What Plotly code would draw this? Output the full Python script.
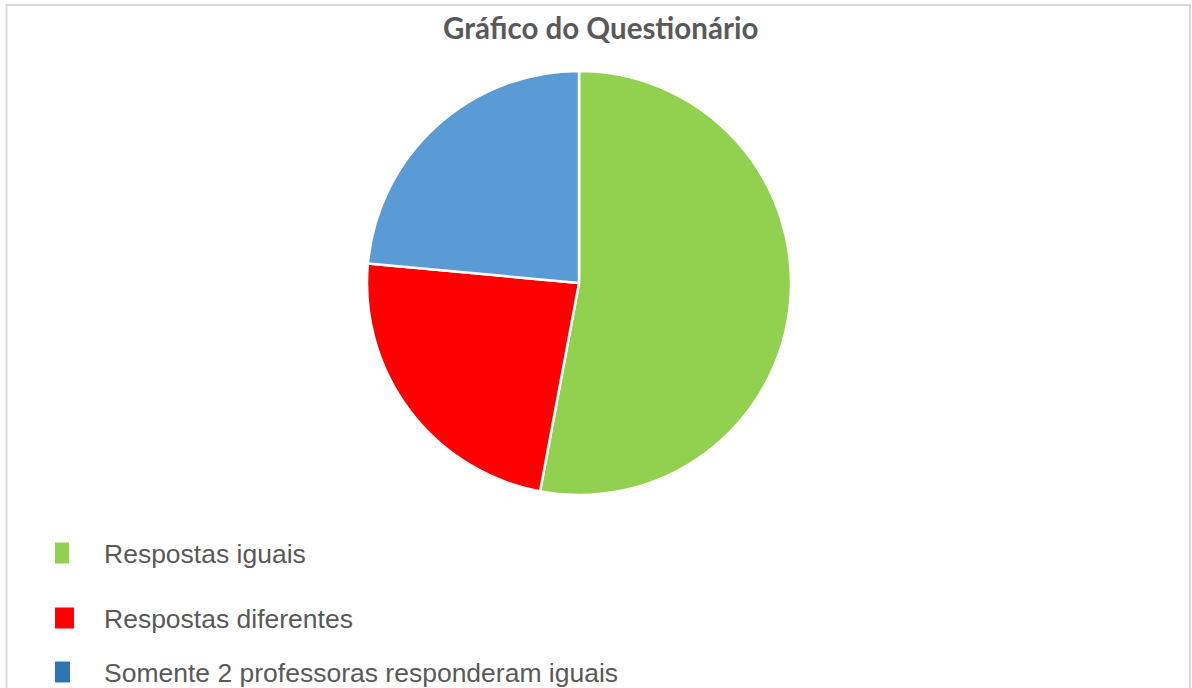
import plotly.graph_objects as go

labels = ["Respostas iguais", "Respostas diferentes", "Somente 2 professoras responderam iguais"]
values = [9, 4, 4]
slice_colors = ["#92D050", "#FF0000", "#5B9BD5"]
legend_colors = ["#92D050", "#FF0000", "#2E75B6"]
title = "Gráfico do Questionário"

W, H = 1192, 688
fig = go.Figure()
fig.add_trace(go.Pie(
    labels=labels, values=values, sort=False, direction="clockwise", rotation=0,
    marker=dict(colors=slice_colors, line=dict(color="white", width=2.5)),
    textinfo="none", hoverinfo="label+value+percent",
    domain=dict(x=[(579 - 212) / W, (579 + 212) / W], y=[1 - (283 + 212) / H, 1 - (283 - 212) / H]),
    showlegend=False,
))

# border
fig.add_shape(type="rect", xref="paper", yref="paper",
              x0=6.5 / W, x1=1190 / W, y0=-0.05, y1=1 - 5 / H,
              line=dict(color="#D9D9D9", width=2), fillcolor="rgba(0,0,0,0)", layer="below")

# custom legend
leg_y = [553, 618, 672]
leg_w = [14, 19, 15]
for lab, col, yc, w in zip(labels, legend_colors, leg_y, leg_w):
    fig.add_shape(type="rect", xref="paper", yref="paper",
                  x0=55 / W, x1=(55 + w) / W, y0=1 - (yc + 10.5) / H, y1=1 - (yc - 10.5) / H,
                  line=dict(width=0), fillcolor=col)
    fig.add_annotation(xref="paper", yref="paper", x=102 / W, y=1 - (yc + 1) / H,
                       xanchor="left", yanchor="middle", showarrow=False, text=lab,
                       font=dict(family="Liberation Sans, Arial", size=26.5, color="#595959"))

fig.add_annotation(xref="paper", yref="paper", x=600 / W, y=1 - 28 / H,
                   xanchor="center", yanchor="middle", showarrow=False,
                   text="<b>" + title + "</b>",
                   font=dict(family="Lato, Open Sans", size=29.5, color="#595959"))

fig.update_layout(width=W, height=H, margin=dict(l=0, r=0, t=0, b=0),
                  paper_bgcolor="white", plot_bgcolor="white", showlegend=False)
fig.write_html("out.html")
